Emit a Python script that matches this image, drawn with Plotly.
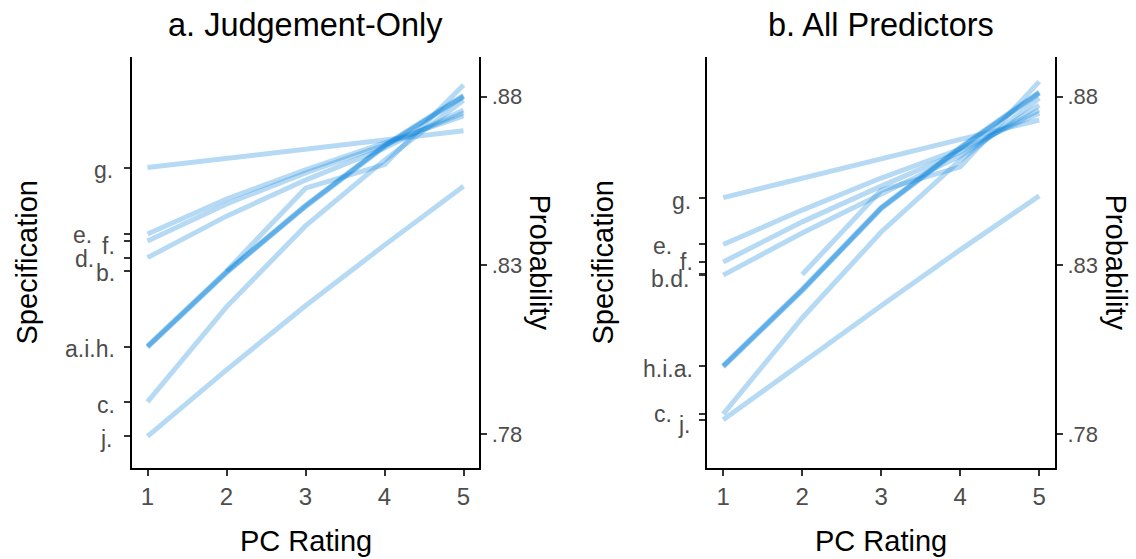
import plotly.graph_objects as go

# PC rating levels on the x axis
ratings = [1, 2, 3, 4, 5]

# Predicted probability for each specification (a-j), panel a: Judgement-Only
judg_a = [0.8059, 0.8280, 0.8476, 0.8654, 0.8802]
judg_b = [None, 0.8283, 0.8529, 0.8599, 0.8835]
judg_c = [0.7895, 0.8177, 0.8417, 0.8612, 0.8790]
judg_d = [0.8323, 0.8446, 0.8553, 0.8648, 0.8761]
judg_e = [0.8393, 0.8497, 0.8583, 0.8663, 0.8743]
judg_f = [0.8372, 0.8482, 0.8574, 0.8657, 0.8752]
judg_g = [0.8590, 0.8617, 0.8644, 0.8672, 0.8699]
judg_h = [0.8061, 0.8282, 0.8478, 0.8656, 0.8804]
judg_i = [0.8057, 0.8278, 0.8474, 0.8652, 0.8800]
judg_j = [0.7793, 0.7990, 0.8180, 0.8360, 0.8535]

# Panel b: All Predictors
all_a = [0.8001, 0.8227, 0.8470, 0.8648, 0.8812]
all_b = [None, 0.8273, 0.8523, 0.8592, 0.8845]
all_c = [0.7859, 0.8144, 0.8399, 0.8612, 0.8796]
all_d = [0.8271, 0.8396, 0.8512, 0.8624, 0.8775]
all_e = [0.8362, 0.8464, 0.8559, 0.8645, 0.8751]
all_f = [0.8310, 0.8429, 0.8535, 0.8636, 0.8761]
all_g = [0.8501, 0.8559, 0.8616, 0.8673, 0.8731]
all_h = [0.7999, 0.8225, 0.8468, 0.8646, 0.8810]
all_i = [0.8003, 0.8229, 0.8472, 0.8650, 0.8814]
all_j = [0.7842, 0.8013, 0.8180, 0.8346, 0.8506]

judg_series = [judg_a, judg_b, judg_c, judg_d, judg_e, judg_f, judg_g, judg_h, judg_i, judg_j]
all_series = [all_a, all_b, all_c, all_d, all_e, all_f, all_g, all_h, all_i, all_j]

# Specification labels on the left axis (text, tick value, x of right edge in px, y shift in px)
judg_labels = [
    ("g.", judg_g[0], 115, -2),
    ("e.", judg_e[0], 94, -1),
    ("f.", judg_f[0], 117, -5),
    ("d.", judg_d[0], 96, -1),
    ("b.", judg_b[1], 117, -2),
    ("a.i.h.", judg_a[0], 117, -2),
    ("c.", judg_c[0], 117, -3),
    ("j.", judg_j[0], 115, -3),
]
all_labels = [
    ("g.", all_g[0], 693, -3),
    ("e.", all_e[0], 674, -2),
    ("f.", all_f[0], 695, 0),
    ("b.d.", all_d[0], 691, -4),
    ("h.i.a.", all_a[0], 695, -3),
    ("c.", all_c[0], 674, 0),
    ("j.", all_j[0], 693, -5),
]

prob_ticks = [0.78, 0.83, 0.88]
prob_text = [".78", ".83", ".88"]

W, H = 1136, 559
FONT = "Liberation Sans, Arial, sans-serif"
LINE_RGBA = "rgba(14,134,220,0.30)"
Y_RANGE = [0.7699, 0.8918]
X_RANGE = [0.8, 5.2]

left_dom = [131.7 / W, 479.3 / W]
right_dom = [707.4 / W, 1055.0 / W]
y_dom = [(H - 468) / H, (H - 57) / H]

fig = go.Figure()

for series in judg_series:
    fig.add_trace(go.Scatter(x=ratings, y=series, mode="lines", xaxis="x", yaxis="y",
                             line=dict(color=LINE_RGBA, width=5), connectgaps=False,
                             hoverinfo="skip", showlegend=False))
for series in all_series:
    fig.add_trace(go.Scatter(x=ratings, y=series, mode="lines", xaxis="x2", yaxis="y3",
                             line=dict(color=LINE_RGBA, width=5), connectgaps=False,
                             hoverinfo="skip", showlegend=False))

# empty traces so the secondary probability axes get drawn
fig.add_trace(go.Scatter(x=[], y=[], xaxis="x", yaxis="y2", mode="lines",
                         hoverinfo="skip", showlegend=False))
fig.add_trace(go.Scatter(x=[], y=[], xaxis="x2", yaxis="y4", mode="lines",
                         hoverinfo="skip", showlegend=False))

axis_common = dict(showline=True, linecolor="black", linewidth=2, ticks="outside",
                   ticklen=6, tickwidth=2, tickcolor="#333333", showgrid=False,
                   zeroline=False, fixedrange=True)

x_common = dict(axis_common, range=X_RANGE, tickvals=ratings,
                ticktext=[str(r) for r in ratings],
                tickfont=dict(family=FONT, size=24, color="#4D4D4D"))

spec_judg_ticks = sorted({v for _, v, _, _ in judg_labels} | {judg_e[0], judg_f[0]})
spec_all_ticks = sorted({v for _, v, _, _ in all_labels} | {all_b[1]})

fig.update_layout(
    width=W, height=H,
    margin=dict(l=0, r=0, t=0, b=0),
    paper_bgcolor="white", plot_bgcolor="white",
    xaxis=dict(x_common, domain=left_dom, anchor="y"),
    xaxis2=dict(x_common, domain=right_dom, anchor="y3"),
    yaxis=dict(axis_common, domain=y_dom, range=Y_RANGE, anchor="x",
               tickvals=spec_judg_ticks, showticklabels=False),
    yaxis2=dict(axis_common, range=Y_RANGE, overlaying="y", anchor="x", side="right",
                tickvals=prob_ticks, ticktext=prob_text,
                tickfont=dict(family=FONT, size=22, color="#4D4D4D")),
    yaxis3=dict(axis_common, domain=y_dom, range=Y_RANGE, anchor="x2",
                tickvals=spec_all_ticks, showticklabels=False),
    yaxis4=dict(axis_common, range=Y_RANGE, overlaying="y3", anchor="x2", side="right",
                tickvals=prob_ticks, ticktext=prob_text,
                tickfont=dict(family=FONT, size=22, color="#4D4D4D")),
)

annotations = []

def px_x(px):
    return px / W

def px_y(px):
    return (H - px) / H

for text, val, xr, dy in judg_labels:
    annotations.append(dict(text=text, x=px_x(xr), xref="paper", y=val, yref="y",
                            xanchor="right", yanchor="middle", yshift=dy, showarrow=False,
                            font=dict(family=FONT, size=23, color="#4D4D4D")))
for text, val, xr, dy in all_labels:
    annotations.append(dict(text=text, x=px_x(xr), xref="paper", y=val, yref="y3",
                            xanchor="right", yanchor="middle", yshift=dy, showarrow=False,
                            font=dict(family=FONT, size=23, color="#4D4D4D")))

# Panel titles
for text, cx in [("a. Judgement-Only", 305.5), ("b. All Predictors", 881.2)]:
    annotations.append(dict(text=text, x=px_x(cx), y=px_y(25), xref="paper", yref="paper",
                            xanchor="center", yanchor="middle", showarrow=False,
                            font=dict(family=FONT, size=32.5, color="black")))

# Axis titles
for cx in [305.5, 881.2]:
    annotations.append(dict(text="PC Rating", x=px_x(cx), y=px_y(541), xref="paper", yref="paper",
                            xanchor="center", yanchor="middle", showarrow=False,
                            font=dict(family=FONT, size=29, color="black")))
for cx in [26, 602]:
    annotations.append(dict(text="Specification", x=px_x(cx), y=px_y(262.5), xref="paper",
                            yref="paper", xanchor="center", yanchor="middle", textangle=-90,
                            showarrow=False, font=dict(family=FONT, size=29, color="black")))
for cx in [540, 1116]:
    annotations.append(dict(text="Probability", x=px_x(cx), y=px_y(262.5), xref="paper",
                            yref="paper", xanchor="center", yanchor="middle", textangle=90,
                            showarrow=False, font=dict(family=FONT, size=29, color="black")))

fig.update_layout(annotations=annotations)

fig.write_html("out.html")
